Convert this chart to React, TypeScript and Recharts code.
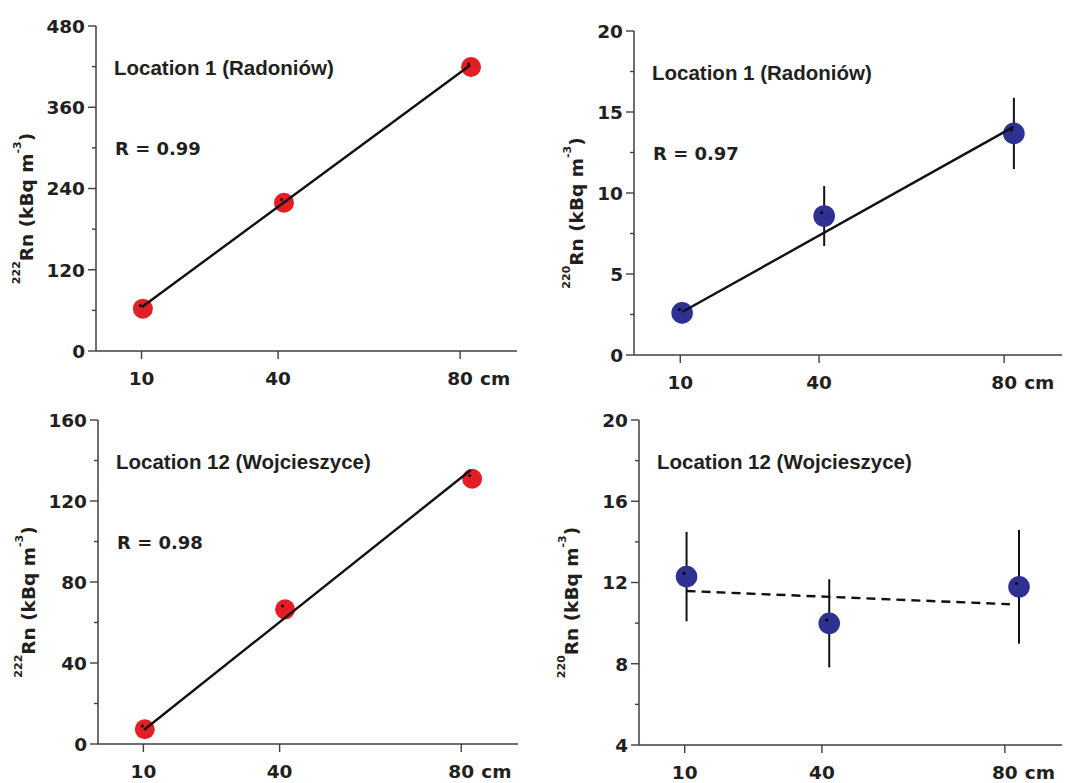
import React from 'react'
import { ComposedChart, Scatter, XAxis, YAxis, ErrorBar, Customized } from 'recharts'

// Radon / thoron vs. depth, two sites. Four small panels in a 2x2 grid,
// each an Origin-style frame: dark left/bottom axes, grey top/right border.

const DEPTH_TICKS = [10, 40, 80]
const DEPTH_DOMAIN: [number, number] = [0, 92.5]

// 222Rn, Location 1 (Radoniów)
const rn222Loc1X = [10.3, 41.3, 82.4]
const rn222Loc1Y = [62.5, 219, 419.5]
const rn222Loc1FitX = [10.1, 82.2]
const rn222Loc1FitY = [65, 422]
const rn222Loc1Ticks = [0, 60, 120, 180, 240, 300, 360, 420, 480]
const rn222Loc1Labels = [0, 120, 240, 360, 480]

// 220Rn, Location 1 (Radoniów)
const rn220Loc1X = [10.4, 41.1, 82.1]
const rn220Loc1Y = [2.6, 8.58, 13.68]
const rn220Loc1Err = [0.63, 1.85, 2.2]
const rn220Loc1FitX = [10.4, 82.0]
const rn220Loc1FitY = [2.65, 14.08]
const rn220Loc1Ticks = [0, 2.5, 5, 7.5, 10, 12.5, 15, 17.5, 20]
const rn220Loc1Labels = [0, 5, 10, 15, 20]

// 222Rn, Location 12 (Wojcieszyce)
const rn222Loc12X = [10.3, 41.2, 82.4]
const rn222Loc12Y = [7.3, 66.5, 131]
const rn222Loc12FitX = [10.1, 82.1]
const rn222Loc12FitY = [6.9, 135.3]
const rn222Loc12Ticks = [0, 20, 40, 60, 80, 100, 120, 140, 160]
const rn222Loc12Labels = [0, 40, 80, 120, 160]

// 220Rn, Location 12 (Wojcieszyce)
const rn220Loc12X = [10.4, 41.6, 83.1]
const rn220Loc12Y = [12.29, 9.99, 11.79]
const rn220Loc12Err = [2.2, 2.17, 2.8]
const rn220Loc12FitX = [10.4, 81.1]
const rn220Loc12FitY = [11.58, 10.93]
const rn220Loc12Ticks = [4, 6, 8, 10, 12, 14, 16, 18, 20]
const rn220Loc12Labels = [4, 8, 12, 16, 20]

const INK = '#231f20'
const AXIS = '#3f3f3f'
const FRAME = '#8a8a8a'
const RED = '#e31e24'
const BLUE = '#2e3192'
const HEAVY = '"DejaVu Sans", sans-serif'
const ARIAL = '"Liberation Sans", Arial, sans-serif'

const Y_W = 60
const X_H = 30

type Rect = { left: number; top: number; right: number; bottom: number }
type Box = { x: number; y: number; w: number; h: number }

function toPoints(xs: number[], ys: number[], errs?: number[]) {
  return xs.map((x, i) => ({ x, y: ys[i], err: errs ? errs[i] : 0 }))
}

function YTick(props: any) {
  const { x, y, payload, labels } = props
  const major = labels.includes(payload.value)
  return (
    <g>
      <line x1={x} y1={y} x2={x - (major ? 8 : 4)} y2={y} stroke={AXIS} strokeWidth={1.4} />
      {major && (
        <text x={x - 11} y={y + 6.8} textAnchor="end" fontFamily={HEAVY} fontWeight="bold" fontSize={18.5} fill={INK}>
          {payload.value}
        </text>
      )}
    </g>
  )
}

function XTick(props: any) {
  const { x, y, payload } = props
  const last = payload.value === DEPTH_TICKS[DEPTH_TICKS.length - 1]
  return (
    <g fontFamily={HEAVY} fontWeight="bold" fontSize={18.5} fill={INK}>
      <text x={x} y={y + 24} textAnchor="middle">{payload.value}</text>
      {last && <text x={x + 20} y={y + 24} textAnchor="start">cm</text>}
    </g>
  )
}

function Marker(props: any) {
  const { cx, cy, fill, r } = props
  if (cx == null || cy == null) return <g />
  return (
    <g>
      <circle cx={cx} cy={cy} r={r} fill={fill} />
      <circle cx={cx - 2.5} cy={cy - 3.3} r={1.5} fill="#000" />
    </g>
  )
}

function Panel({
  box, plot, yDomain, yTicks, yLabels, points, fit, color, radius, dashed,
  title, rText, iso, labelGap,
}: {
  box: Box
  plot: Rect
  yDomain: [number, number]
  yTicks: number[]
  yLabels: number[]
  points: { x: number; y: number; err: number }[]
  fit: { x: number; y: number; err: number }[]
  color: string
  radius: number
  dashed?: boolean
  title: string
  rText?: string
  iso: string
  labelGap: number
}) {
  const margin = {
    left: plot.left - box.x - Y_W,
    top: plot.top - box.y,
    right: box.x + box.w - plot.right,
    bottom: box.y + box.h - plot.bottom - X_H,
  }
  // annotation positions in the panel's own svg space
  const pl = plot.left - box.x
  const pt = plot.top - box.y
  const labelX = pl - labelGap
  const labelY = (plot.top + plot.bottom) / 2 - box.y + 20
  const hasErr = points.some(p => p.err > 0)

  return (
    <div style={{ position: 'absolute', left: box.x, top: box.y, width: box.w, height: box.h }}>
      <ComposedChart width={box.w} height={box.h} margin={margin}>
        <XAxis
          type="number" dataKey="x" domain={DEPTH_DOMAIN} ticks={DEPTH_TICKS} allowDataOverflow
          height={X_H} tickSize={8} tickMargin={2} stroke={AXIS} strokeWidth={1.5}
          tickLine={{ stroke: AXIS, strokeWidth: 1.4 }} tick={<XTick />}
        />
        <XAxis
          xAxisId="top" orientation="top" type="number" domain={DEPTH_DOMAIN} ticks={[]}
          height={0} tick={false} tickLine={false} axisLine={{ stroke: FRAME, strokeWidth: 1.2 }}
        />
        <YAxis
          type="number" dataKey="y" domain={yDomain} ticks={yTicks} allowDataOverflow interval={0}
          width={Y_W} tickSize={0} tickMargin={0} tickLine={false}
          axisLine={{ stroke: AXIS, strokeWidth: 1.5 }}
          tick={(p: any) => <YTick {...p} labels={yLabels} />}
        />
        <YAxis
          yAxisId="right" orientation="right" type="number" domain={yDomain} ticks={[]}
          width={0} tick={false} tickLine={false} axisLine={{ stroke: FRAME, strokeWidth: 1.2 }}
        />
        <Scatter
          data={points} fill={color} isAnimationActive={false}
          shape={(p: any) => <Marker {...p} fill={color} r={radius} />}
        >
          {hasErr && <ErrorBar dataKey="err" direction="y" width={0} stroke="#111" strokeWidth={2} />}
        </Scatter>
        <Scatter
          data={fit} isAnimationActive={false} shape={() => <g />}
          line={{ stroke: '#111', strokeWidth: 2.4, strokeDasharray: dashed ? '9 6' : undefined }}
        />
        <Customized
          component={() => (
            <g fill={INK}>
              <text x={pl + 18} y={pt + 49} fontFamily={ARIAL} fontWeight="bold" fontSize={20.5}>{title}</text>
              {rText && (
                <text x={pl + 19} y={pt + 129} fontFamily={HEAVY} fontWeight="bold" fontSize={18}>{rText}</text>
              )}
              <text
                transform={`translate(${labelX}, ${labelY}) rotate(-90)`}
                textAnchor="middle" fontFamily={HEAVY} fontWeight="bold" fontSize={18.5}
              >
                <tspan fontSize={11} dy={-13}>{iso}</tspan>
                <tspan dy={13}>Rn (kBq m</tspan>
                <tspan fontSize={11} dy={-12}>-3</tspan>
                <tspan dy={12}>)</tspan>
              </text>
            </g>
          )}
        />
      </ComposedChart>
    </div>
  )
}

export default function App() {
  return (
    <div style={{ position: 'absolute', left: 0, top: 0, width: 1072, height: 783, background: '#fff' }}>
      <Panel
        box={{ x: 0, y: 0, w: 536, h: 392 }}
        plot={{ left: 96, top: 26, right: 517, bottom: 351 }}
        yDomain={[0, 480]} yTicks={rn222Loc1Ticks} yLabels={rn222Loc1Labels}
        points={toPoints(rn222Loc1X, rn222Loc1Y)} fit={toPoints(rn222Loc1FitX, rn222Loc1FitY)}
        color={RED} radius={10} title="Location 1 (Radoniów)" rText="R = 0.99" iso="222" labelGap={63}
      />
      <Panel
        box={{ x: 536, y: 0, w: 536, h: 392 }}
        plot={{ left: 634, top: 31, right: 1062, bottom: 355 }}
        yDomain={[0, 20]} yTicks={rn220Loc1Ticks} yLabels={rn220Loc1Labels}
        points={toPoints(rn220Loc1X, rn220Loc1Y, rn220Loc1Err)} fit={toPoints(rn220Loc1FitX, rn220Loc1FitY)}
        color={BLUE} radius={10.8} title="Location 1 (Radoniów)" rText="R = 0.97" iso="220" labelGap={51}
      />
      <Panel
        box={{ x: 0, y: 392, w: 536, h: 391 }}
        plot={{ left: 98, top: 420, right: 518, bottom: 744 }}
        yDomain={[0, 160]} yTicks={rn222Loc12Ticks} yLabels={rn222Loc12Labels}
        points={toPoints(rn222Loc12X, rn222Loc12Y)} fit={toPoints(rn222Loc12FitX, rn222Loc12FitY)}
        color={RED} radius={10} title="Location 12 (Wojcieszyce)" rText="R = 0.98" iso="222" labelGap={63}
      />
      <Panel
        box={{ x: 536, y: 392, w: 536, h: 391 }}
        plot={{ left: 639, top: 420, right: 1062, bottom: 745 }}
        yDomain={[4, 20]} yTicks={rn220Loc12Ticks} yLabels={rn220Loc12Labels}
        points={toPoints(rn220Loc12X, rn220Loc12Y, rn220Loc12Err)} fit={toPoints(rn220Loc12FitX, rn220Loc12FitY)}
        color={BLUE} radius={10.8} dashed title="Location 12 (Wojcieszyce)" iso="220" labelGap={61}
      />
    </div>
  )
}
